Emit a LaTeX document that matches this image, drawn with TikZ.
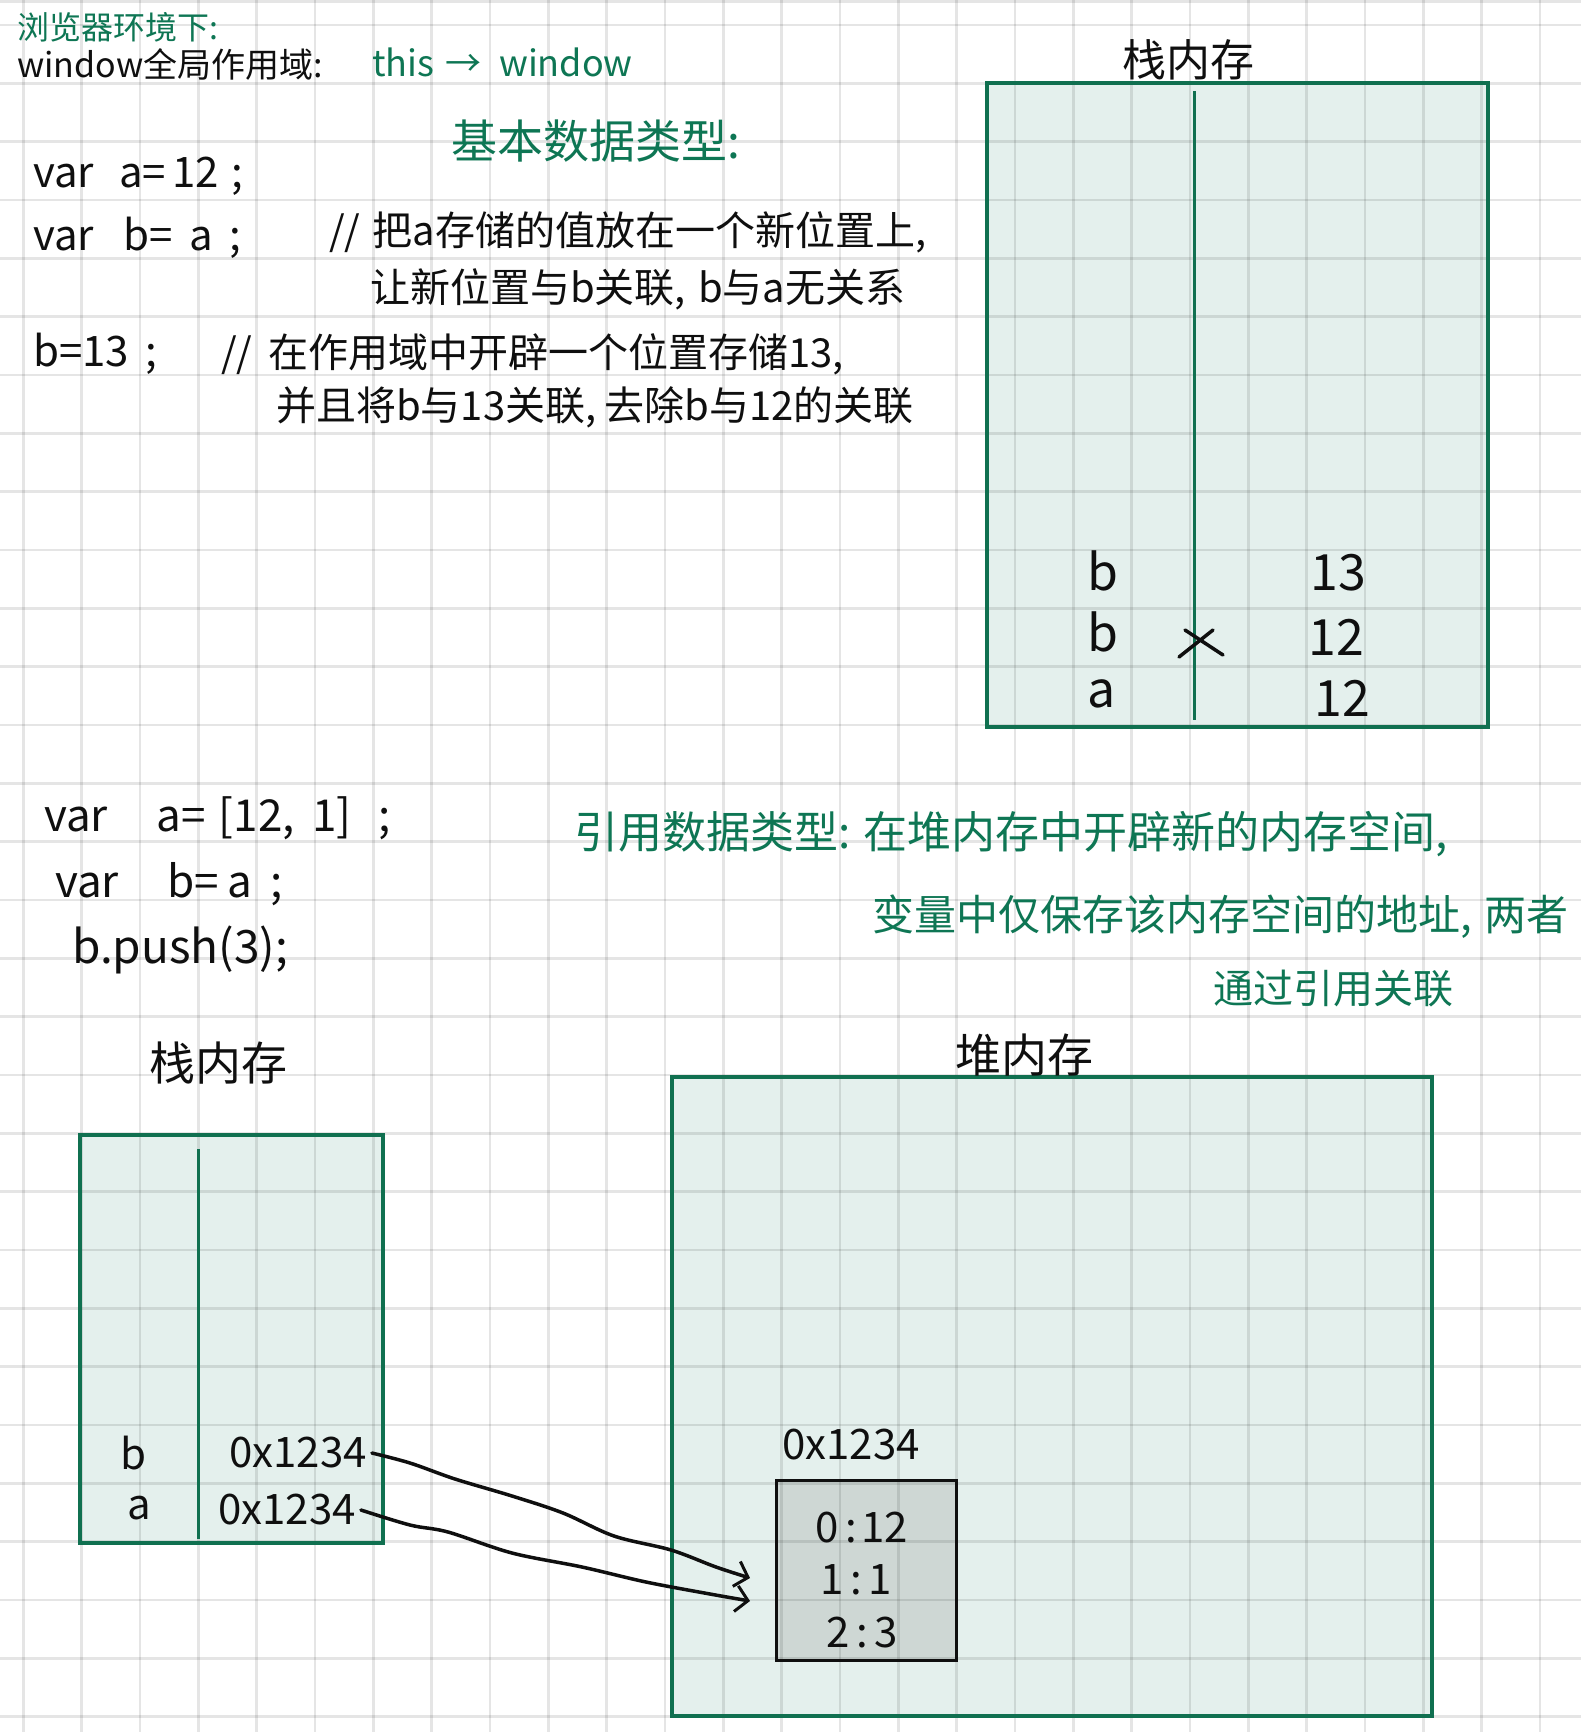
\documentclass[tikz,border=0pt]{standalone}
\usepackage{fontspec}
\setmainfont{Noto Sans CJK SC}
\usetikzlibrary{arrows.meta}
\definecolor{inkgreen}{RGB}{14,118,84}
\definecolor{boxgreen}{RGB}{16,112,80}
\definecolor{boxfill}{RGB}{228,240,237}
\definecolor{cellfill}{RGB}{206,215,212}
\definecolor{ink}{RGB}{15,15,15}
\tikzset{
  gridline/.style={draw=black, draw opacity=0.1, line width=2.6pt},
  memfill/.style={fill=boxfill, draw=none, inner sep=0pt, outer sep=0pt},
  cellbox/.style={fill=cellfill, draw=none, inner sep=0pt, outer sep=0pt},
  memborder/.style={draw=boxgreen, line width=3.5pt},
  cellborder/.style={draw=ink, line width=3pt},
  divline/.style={draw=boxgreen, line width=3pt},
  fs/.style={font=\fontsize{#1}{#1}\selectfont},
  txt/.style={inner sep=0pt, text=ink},
  gtxt/.style={inner sep=0pt, text=inkgreen},
  link/.style={draw=ink, line width=3.5pt, line cap=round, line join=round,
    -{Straight Barb[length=12pt,width=26pt,line width=3pt]}},
  crossline/.style={draw=ink, line width=3.5pt, line cap=round},
}
\begin{document}
\begin{tikzpicture}[x=1pt,y=-1pt]
\useasboundingbox (0,0) rectangle (1581,1732);
\begin{scope}
\clip (0,0) rectangle (1581,1732);
\fill[white] (0,0) rectangle (1581,1732);

% memory areas (fills)
\node[memfill, minimum width=501pt, minimum height=644pt] (stackA) at (1237.5,405) {};
\node[memfill, minimum width=303pt, minimum height=408pt] (stackB) at (231.5,1339) {};
\node[memfill, minimum width=760pt, minimum height=639pt] (heap) at (1052,1396.5) {};
\node[cellbox, minimum width=180pt, minimum height=180pt] (cell) at (866,1570) {};

% grid paper
\draw[gridline] (0,1.5) -- (1581,1.5);
\foreach \i in {0,...,26} \draw[gridline] ({23.3+58.33*\i},0) -- ({23.3+58.33*\i},1732);
\foreach \j in {0,...,29} \draw[gridline] (0,{25+58.33*\j}) -- (1581,{25+58.33*\j});

% borders
\draw[memborder] (stackA.north west) rectangle (stackA.south east);
\draw[memborder] (stackB.north west) rectangle (stackB.south east);
\draw[memborder] (heap.north west) rectangle (heap.south east);
\draw[cellborder] (cell.north west) rectangle (cell.south east);

% dividers
\coordinate (divAt) at (1194,91);
\coordinate (divAb) at (1194,720);
\draw[divline] (divAt) -- (divAb);
\coordinate (divBt) at (198,1149);
\coordinate (divBb) at (198,1539);
\draw[divline] (divBt) -- (divBb);

% header
\node[gtxt, fs=32, anchor=west] (browser) at (17,27) {浏览器环境下:};
\node[txt, fs=34, anchor=west] (scope) at (17,64) {window全局作用域:};
\node[gtxt, fs=36, anchor=west] (thisw) at (372,62) {this\hspace{0.3em}→\hspace{0.5em}window};

% primitive types
\node[gtxt, fs=46, anchor=west] (prim) at (451,141) {基本数据类型:};
\node[txt, fs=42, anchor=west] (codeA) at (33,176) {var\hspace{0.6em}a=\hspace{0.15em}12\hspace{0.3em};};
\node[txt, fs=42, anchor=west] (codeB) at (33,238) {var\hspace{0.7em}b=\hspace{0.4em}a\hspace{0.4em};};
\node[txt, fs=40, anchor=west] (cmA) at (329,232) {//\hspace{0.3em}把a存储的值放在一个新位置上,};
\node[txt, fs=40, anchor=west] (cmAb) at (370,289) {让新位置与b关联,\hspace{0.3em}b与a无关系};
\node[txt, fs=42, anchor=west] (codeC) at (33,354) {b=13\hspace{0.4em};};
\node[txt, fs=40, anchor=west] (cmB) at (221,354) {//\hspace{0.4em}在作用域中开辟一个位置存储13,};
\node[txt, fs=40, anchor=west] (cmBb) at (276,407) {并且将b与13关联,\hspace{0.2em}去除b与12的关联};

% top stack
\node[txt, fs=44] (stackAtitle) at (1188,60) {栈内存};
\node[txt, fs=50] (sb2) at (1103,571) {b};
\node[txt, fs=50] (sv2) at (1338,573) {13};
\node[txt, fs=50] (sb1) at (1103,632) {b};
\node[txt, fs=50] (sv1) at (1336,637) {12};
\node[txt, fs=50] (sa) at (1102,694) {a};
\node[txt, fs=50] (sva) at (1342,698) {12};
\draw[crossline] (1179,657) -- (1213,630);
\draw[crossline] (1185,630) -- (1223,655);

% reference types code
\node[txt, fs=44, anchor=west] (codeD) at (44,818) {var\hspace{1.1em}a=\hspace{0.3em}[12,\hspace{0.4em}1]\hspace{0.6em};};
\node[txt, fs=44, anchor=west] (codeE) at (55,884) {var\hspace{1.1em}b=\hspace{0.2em}a\hspace{0.4em};};
\node[txt, fs=46, anchor=west] (codeF) at (72,950) {b.push(3);};

\node[gtxt, fs=44, anchor=west] (refA) at (574,834) {引用数据类型:\hspace{0.3em}在堆内存中开辟新的内存空间,};
\node[gtxt, fs=42, anchor=west] (refB) at (872,917) {变量中仅保存该内存空间的地址,\hspace{0.3em}两者};
\node[gtxt, fs=40, anchor=west] (refC) at (1213,989) {通过引用关联};

\node[txt, fs=46] (stackBtitle) at (218,1063) {栈内存};
\node[txt, fs=46] (heaptitle) at (1024,1055) {堆内存};

% bottom stack entries
\node[txt, fs=42] (lb) at (133,1453) {b};
\node[txt, fs=42] (bval) at (298,1453) {0x1234};
\node[txt, fs=42] (la) at (139,1508) {a};
\node[txt, fs=42] (aval) at (287,1510) {0x1234};

% heap object
\node[txt, fs=42] (addr) at (851,1445) {0x1234};
\node[txt, fs=42] (e0) at (862,1528) {0\hspace{0.15em}:\hspace{0.1em}12};
\node[txt, fs=42] (e1) at (856,1580) {1\hspace{0.15em}:\hspace{0.15em}1};
\node[txt, fs=42] (e2) at (862,1633) {2\hspace{0.15em}:\hspace{0.15em}3};

% links
\coordinate (tipB) at (750,1578);
\coordinate (tipA) at (750,1601);
\draw[link] plot[smooth, tension=0.55] coordinates {([xshift=5pt]bval.east) (410,1463) (455,1479) (512,1496) (563,1513) (614,1536) (671,1550) (716,1567) (tipB)};
\draw[link] plot[smooth, tension=0.55] coordinates {([xshift=5pt]aval.east) (410,1525) (448,1532) (512,1553) (582,1567) (646,1582) (710,1594) (tipA)};
\end{scope}
\end{tikzpicture}
\end{document}
